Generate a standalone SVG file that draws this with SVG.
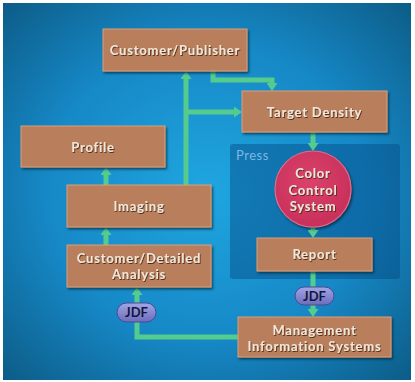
<svg xmlns="http://www.w3.org/2000/svg" width="415" height="382" viewBox="0 0 415 382">
  <defs>
    <radialGradient id="bg" cx="0.5" cy="0.5" r="0.72">
      <stop offset="0" stop-color="#1fa6e0"/>
      <stop offset="0.55" stop-color="#1688c6"/>
      <stop offset="1" stop-color="#0c5a84"/>
    </radialGradient>
    <radialGradient id="circ" cx="0.45" cy="0.4" r="0.6">
      <stop offset="0" stop-color="#da426c"/>
      <stop offset="1" stop-color="#c8305a"/>
    </radialGradient>
    <linearGradient id="pill" x1="0" y1="0" x2="0" y2="1">
      <stop offset="0" stop-color="#a2a6e6"/>
      <stop offset="1" stop-color="#6c6cbc"/>
    </linearGradient>
    <filter id="shadow" x="-10%" y="-10%" width="125%" height="130%">
      <feDropShadow dx="1.5" dy="2" stdDeviation="1.2" flood-color="#06263e" flood-opacity="0.7"/>
    </filter>
    <filter id="tshadow" x="-5%" y="-20%" width="110%" height="150%">
      <feDropShadow dx="0.8" dy="1" stdDeviation="0.4" flood-color="#4a2410" flood-opacity="0.9"/>
    </filter>
    <marker id="arrow" viewBox="0 0 8 11" refX="0" refY="5.5" markerWidth="8" markerHeight="11" markerUnits="userSpaceOnUse" orient="auto">
      <path d="M0,0 L8,5.5 L0,11 Z" fill="#55cc8e"/>
    </marker>
    <style>
      .box { fill: #b97f5b; stroke: #d7a07c; stroke-width: 1; filter: url(#shadow); }
      .lbl { font-family: "Lato", "Open Sans", sans-serif; font-weight: bold; font-size: 13px; letter-spacing: 0.8px; fill: #f1e6d8; text-anchor: middle; filter: url(#tshadow); }
      .conn { fill: none; stroke: #55cc8e; stroke-width: 5; marker-end: url(#arrow); }
      .pill { fill: url(#pill); stroke: #4a4a94; stroke-width: 1; }
      .jdf { font-family: "Lato", "Open Sans", sans-serif; font-weight: bold; font-size: 13px; fill: #15153a; text-anchor: middle; }
    </style>
  </defs>

  <rect x="0" y="0" width="415" height="382" fill="#ffffff"/>
  <rect x="3" y="3" width="408" height="377" fill="url(#bg)"/>

  <g id="press">
    <rect x="230" y="144" width="170" height="135" rx="3" fill="#044a82" opacity="0.45"/>
    <text x="236" y="160" font-family="Lato, 'Open Sans', sans-serif" font-size="13" letter-spacing="0.5" fill="#7cb8e6">Press</text>
  </g>

  <g id="connectors">
    <path class="conn" d="M186,185 V79"/>
    <path class="conn" d="M186,112 H234"/>
    <path class="conn" d="M213,71 V80 H272 V83"/>
    <path class="conn" d="M313,132 V143"/>
    <path class="conn" d="M313,227 V230"/>
    <path class="conn" d="M313,271 V309"/>
    <path class="conn" d="M106,185 V175"/>
    <path class="conn" d="M106,245 V235"/>
    <path class="conn" d="M238,337 H137 V295"/>
  </g>

  <g id="customer-publisher">
    <rect class="box" x="103" y="29" width="144" height="42"/>
    <text class="lbl" x="175" y="55">Customer/Publisher</text>
  </g>
  <g id="target-density">
    <rect class="box" x="242" y="91" width="145" height="41"/>
    <text class="lbl" x="314.5" y="116.5">Target Density</text>
  </g>
  <g id="profile">
    <rect class="box" x="21" y="126" width="144" height="41"/>
    <text class="lbl" x="93" y="151.5">Profile</text>
  </g>
  <g id="imaging">
    <rect class="box" x="67" y="185" width="144" height="42"/>
    <text class="lbl" x="139" y="211">Imaging</text>
  </g>
  <g id="customer-detailed-analysis">
    <rect class="box" x="67" y="245" width="144" height="42"/>
    <text class="lbl" x="139" y="263">Customer/Detailed</text>
    <text class="lbl" x="139" y="279">Analysis</text>
  </g>
  <g id="color-control-system">
    <circle cx="313" cy="189" r="38" fill="url(#circ)" stroke="#e26a8c" stroke-width="1.2" filter="url(#shadow)"/>
    <text class="lbl" x="313" y="178">Color</text>
    <text class="lbl" x="313" y="194.5">Control</text>
    <text class="lbl" x="313" y="211">System</text>
  </g>
  <g id="report">
    <rect class="box" x="257" y="238" width="115" height="33"/>
    <text class="lbl" x="314.5" y="259">Report</text>
  </g>
  <g id="mis">
    <rect class="box" x="238" y="317" width="153" height="40"/>
    <text class="lbl" x="314.5" y="335">Management</text>
    <text class="lbl" x="314.5" y="351">Information Systems</text>
  </g>
  <g id="jdf-right">
    <rect class="pill" x="295" y="287" width="39" height="18" rx="9"/>
    <text class="jdf" x="314.5" y="300.5">JDF</text>
  </g>
  <g id="jdf-left">
    <rect class="pill" x="117" y="303" width="39" height="19" rx="9.5"/>
    <text class="jdf" x="136.5" y="317">JDF</text>
  </g>
</svg>
